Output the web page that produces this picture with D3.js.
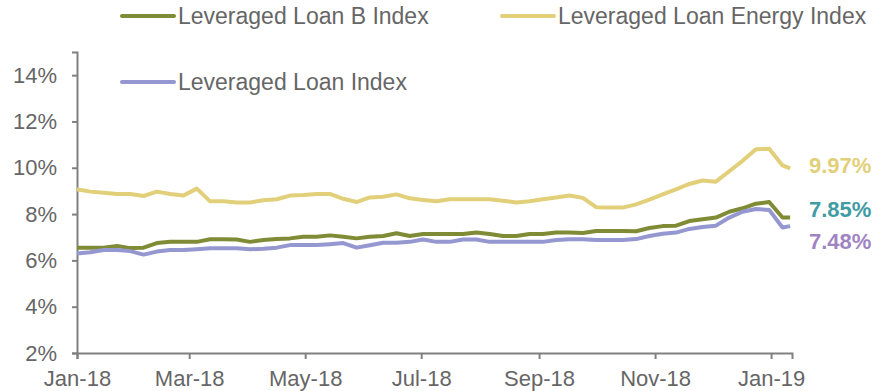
<html>
<head>
<script src="https://d3js.org/d3.v7.min.js"></script>
<style>
body { margin: 0; background: #fff; font-family: 'Liberation Sans', Arial, sans-serif; }
</style>
</head>
<body>
<div id="chart"></div>
<script>

// weekly observations, Jan 1 2018 .. Jan 11 2019
var startDate = new Date(2018, 0, 1);
var dates = d3.range(54).map(function(k) { return d3.timeDay.offset(startDate, 7 * k); });
dates.push(new Date(2019, 0, 11));

var energyIdx = [9.07, 8.97, 8.92, 8.87, 8.87, 8.78, 8.97, 8.87, 8.80, 9.10,
                 8.55, 8.55, 8.50, 8.50, 8.60, 8.64, 8.80, 8.82, 8.87, 8.87,
                 8.66, 8.52, 8.72, 8.75, 8.85, 8.68, 8.61, 8.55, 8.64, 8.64,
                 8.64, 8.64, 8.58, 8.50, 8.55, 8.64, 8.72, 8.80, 8.70, 8.30,
                 8.28, 8.28, 8.42, 8.62, 8.85, 9.07, 9.30, 9.45, 9.40, 9.85,
                 10.30, 10.80, 10.82, 10.10, 9.97];
var bIdx = [6.55, 6.55, 6.55, 6.62, 6.53, 6.55, 6.75, 6.80, 6.80, 6.80,
            6.91, 6.91, 6.90, 6.80, 6.88, 6.92, 6.95, 7.02, 7.02, 7.08,
            7.02, 6.95, 7.02, 7.05, 7.17, 7.05, 7.14, 7.14, 7.14, 7.14,
            7.20, 7.14, 7.05, 7.05, 7.14, 7.14, 7.20, 7.20, 7.18, 7.27,
            7.27, 7.27, 7.26, 7.40, 7.48, 7.50, 7.70, 7.78, 7.85, 8.10,
            8.25, 8.45, 8.52, 7.85, 7.85];
var loanIdx = [6.30, 6.35, 6.45, 6.45, 6.40, 6.25, 6.38, 6.45, 6.45, 6.48,
               6.52, 6.52, 6.52, 6.48, 6.50, 6.55, 6.66, 6.66, 6.66, 6.70,
               6.75, 6.55, 6.65, 6.76, 6.76, 6.80, 6.90, 6.80, 6.80, 6.90,
               6.90, 6.80, 6.80, 6.80, 6.80, 6.80, 6.88, 6.91, 6.91, 6.88,
               6.88, 6.88, 6.92, 7.05, 7.15, 7.20, 7.36, 7.44, 7.50, 7.85,
               8.10, 8.22, 8.18, 7.42, 7.48];

var seriesNames = ["Leveraged Loan B Index", "Leveraged Loan Energy Index", "Leveraged Loan Index"];
var endLabels = ["7.85%", "9.97%", "7.48%"];
var yTicks = [2, 4, 6, 8, 10, 12, 14];

var series = [
  {name: seriesNames[0], values: bIdx, color: "#7f8b35", labelColor: "#3f9ca3", label: endLabels[0]},
  {name: seriesNames[1], values: energyIdx, color: "#e2cf7a", labelColor: "#e2cf7a", label: endLabels[1]},
  {name: seriesNames[2], values: loanIdx, color: "#9597d0", labelColor: "#9f84c4", label: endLabels[2]}
];

var W = 875, H = 391;
var margin = {left: 77, top: 52, right: 83, bottom: 38};

var svg = d3.select("#chart").append("svg")
  .attr("width", W).attr("height", H);

var x = d3.scaleTime()
  .domain([new Date(2018, 0, 1), new Date(2019, 0, 12)])
  .range([margin.left, W - margin.right]);
var y = d3.scaleLinear()
  .domain([2, 15])
  .range([H - margin.bottom, margin.top]);

// axes
var xAxis = d3.axisBottom(x)
  .tickValues(d3.timeMonth.range(new Date(2018, 0, 1), new Date(2019, 0, 2), 2))
  .tickFormat(d3.timeFormat("%b-%y"))
  .tickSizeOuter(0).tickSize(6).tickPadding(11);
var yAxis = d3.axisLeft(y)
  .tickValues(yTicks)
  .tickFormat(function(d) { return d + "%"; })
  .tickSizeOuter(0).tickSize(5).tickPadding(15);

var gx = svg.append("g")
  .attr("transform", "translate(0," + (H - margin.bottom) + ")")
  .call(xAxis);
var gy = svg.append("g")
  .attr("transform", "translate(" + margin.left + ",0)")
  .call(yAxis);

[gx, gy].forEach(function(g) {
  g.selectAll("path, line").attr("stroke", "#808080").attr("stroke-width", 2);
  g.selectAll("text").attr("fill", "#666").style("font-size", "22px")
    .style("font-family", "'Liberation Sans', Arial, sans-serif");
});
gx.selectAll("text").attr("dy", "0.71em");

// lines
var line = d3.line()
  .x(function(d, i) { return x(dates[i]); })
  .y(function(d) { return y(d); });

// draw in order: energy, B, loan
[1, 0, 2].forEach(function(k) {
  svg.append("path")
    .datum(series[k].values)
    .attr("fill", "none")
    .attr("stroke", series[k].color)
    .attr("stroke-width", 4)
    .attr("stroke-linejoin", "round")
    .attr("d", line);
});

// end labels
var labelY = [209, 165, 241];
series.forEach(function(s, k) {
  svg.append("text")
    .attr("x", 809)
    .attr("y", labelY[k])
    .attr("dy", "0.35em")
    .attr("fill", s.labelColor)
    .style("font-size", "22px")
    .style("font-weight", "bold")
    .text(s.label);
});

// legend
var legendPos = [{x: 122, y: 16}, {x: 502, y: 16}, {x: 122, y: 82}];
series.forEach(function(s, k) {
  var p = legendPos[k];
  svg.append("line")
    .attr("x1", p.x).attr("x2", p.x + 52)
    .attr("y1", p.y).attr("y2", p.y)
    .attr("stroke", s.color).attr("stroke-width", 4)
    .attr("stroke-linecap", "round");
  svg.append("text")
    .attr("x", p.x + 56)
    .attr("y", p.y)
    .attr("dy", "0.36em")
    .attr("fill", "#666")
    .style("font-size", "23px")
    .text(s.name);
});

</script>
</body>
</html>
